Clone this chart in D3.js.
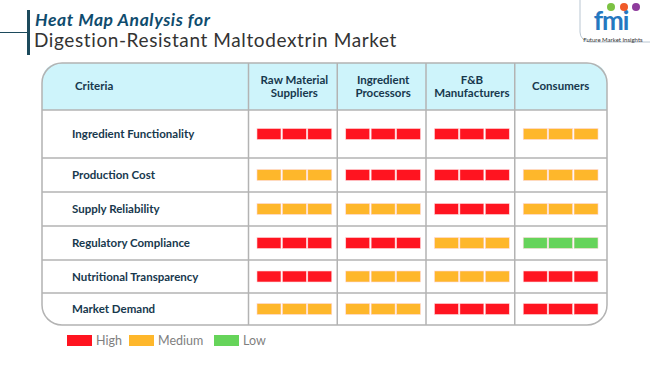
<!DOCTYPE html>
<html lang="en">
<head>
<meta charset="utf-8">
<title>Heat Map Analysis</title>
<script src="https://cdnjs.cloudflare.com/ajax/libs/d3/7.8.5/d3.min.js"></script>
<style>
  body { margin: 0; background: #fff; }
  text { font-family: Lato, "Open Sans", "DejaVu Sans", sans-serif; }
</style>
</head>
<body>
<script>
var criteria = ["Ingredient Functionality", "Production Cost", "Supply Reliability",
    "Regulatory Compliance", "Nutritional Transparency", "Market Demand"];
var stakeholders = [["Raw Material", "Suppliers"], ["Ingredient", "Processors"],
    ["F&B", "Manufacturers"], ["Consumers"]];
var levelNames = ["High", "Medium", "Low"];

// one list per criterion, one entry per stakeholder column
var functionality = ["High", "High", "High", "Medium"];
var cost = ["Medium", "High", "High", "Medium"];
var reliability = ["Medium", "Medium", "High", "Medium"];
var regulatory = ["High", "High", "Medium", "Low"];
var transparency = ["High", "Medium", "Medium", "High"];
var demand = ["Medium", "Medium", "High", "High"];
var levels = [functionality, cost, reliability, regulatory, transparency, demand];

var W = 650, H = 365;
var svg = d3.select("body").append("svg")
    .attr("width", W).attr("height", H);

var color = d3.scaleOrdinal().domain(levelNames)
    .range(["#ff1420", "#feb72b", "#66d45a"]);

// table frame
var tLeft = 42, tRight = 607, tTop = 63, headBottom = 110;
var rowH = [48, 34, 34, 34, 33, 32];
var rowTop = [];
var acc = headBottom;
rowH.forEach(function(h) { rowTop.push(acc); acc += h; });
var tBottom = acc;

var x = d3.scaleBand().domain(d3.range(stakeholders.length)).range([250, 605]);

// header background with rounded top corners
var r = 20;
svg.append("path")
    .attr("d", "M" + tLeft + "," + headBottom + " L" + tLeft + "," + (tTop + r) +
        " Q" + tLeft + "," + tTop + " " + (tLeft + r) + "," + tTop +
        " L" + (tRight - r) + "," + tTop +
        " Q" + tRight + "," + tTop + " " + tRight + "," + (tTop + r) +
        " L" + tRight + "," + headBottom + " Z")
    .attr("fill", "#cef4fb");

var grid = svg.append("g").attr("stroke", "#b3b3b3").attr("stroke-width", 1.5).attr("fill", "none");
grid.append("rect")
    .attr("x", tLeft).attr("y", tTop)
    .attr("width", tRight - tLeft).attr("height", tBottom - tTop)
    .attr("rx", r).attr("ry", r);

// horizontal row lines
grid.selectAll("line.h").data(rowTop).enter().append("line")
    .attr("x1", tLeft).attr("x2", tRight)
    .attr("y1", function(d) { return d; }).attr("y2", function(d) { return d; });

// vertical column lines
grid.selectAll("line.v").data(stakeholders).enter().append("line")
    .attr("x1", function(d, i) { return x(i) - 1.5; })
    .attr("x2", function(d, i) { return x(i) - 1.5; })
    .attr("y1", tTop).attr("y2", tBottom);

var ink = "#17384d";

// header labels
svg.append("text").attr("x", 75).attr("y", 90)
    .attr("font-size", 11.5).attr("font-weight", 700).attr("fill", ink)
    .text("Criteria");

svg.selectAll("text.col").data(stakeholders).enter().append("text")
    .attr("class", "col")
    .attr("x", function(d, i) { return x(i) + x.bandwidth() / 2; })
    .attr("y", function(d) { return d.length > 1 ? 84 : 90; })
    .attr("text-anchor", "middle")
    .attr("font-size", 11.5).attr("font-weight", 700).attr("fill", ink)
    .each(function(d) {
        var t = d3.select(this);
        d.forEach(function(line, k) {
            t.append("tspan")
                .attr("x", t.attr("x"))
                .attr("dy", k === 0 ? 0 : 12.5)
                .text(line);
        });
    });

// row labels
svg.selectAll("text.row").data(criteria).enter().append("text")
    .attr("class", "row")
    .attr("x", 72)
    .attr("y", function(d, i) { return rowTop[i] + rowH[i] / 2 + 4; })
    .attr("font-size", 11.5).attr("font-weight", 700).attr("fill", ink)
    .text(function(d) { return d; });

// heat cells: three segments per cell
var segW = 24, segGap = 1.4, segH = 11;
var rows = svg.selectAll("g.hrow").data(levels).enter().append("g")
    .attr("transform", function(d, i) {
        return "translate(0," + (rowTop[i] + rowH[i] / 2 - segH / 2) + ")";
    });
rows.selectAll("g.cell").data(function(d) { return d; }).enter().append("g")
    .attr("transform", function(d, j) {
        var cx = x(j) + x.bandwidth() / 2;
        return "translate(" + (cx - (3 * segW + 2 * segGap) / 2) + ",0)";
    })
    .selectAll("rect").data(function(d) { return [d, d, d]; }).enter().append("rect")
    .attr("x", function(d, k) { return k * (segW + segGap); })
    .attr("width", segW).attr("height", segH)
    .attr("fill", function(d) { return color(d); })
    .attr("stroke", "#ffd9dc").attr("stroke-width", 0.6);

// legend
var legendX = [67, 129, 214];
var lg = svg.selectAll("g.legend").data(levelNames).enter().append("g")
    .attr("transform", function(d, i) { return "translate(" + legendX[i] + ",335)"; });
lg.append("rect").attr("width", 25).attr("height", 11)
    .attr("fill", function(d) { return color(d); });
lg.append("text").attr("x", 29).attr("y", 10)
    .attr("font-size", 12.5).attr("fill", "#7f7f7f")
    .text(function(d) { return d; });

// title block
svg.append("line").attr("x1", 0).attr("x2", 28).attr("y1", 32.5).attr("y2", 32.5)
    .attr("stroke", "#1c4a5c").attr("stroke-width", 1);
svg.append("rect").attr("x", 27).attr("y", 10).attr("width", 3).attr("height", 45)
    .attr("fill", "#1c4a5c");
svg.append("text").attr("x", 35).attr("y", 26)
    .attr("font-family", "Open Sans, sans-serif")
    .attr("font-size", 17.5).attr("font-weight", 700).attr("font-style", "italic")
    .attr("letter-spacing", 0.6)
    .attr("fill", "#0f4c6e").text("Heat Map Analysis for");
svg.append("text").attr("x", 34).attr("y", 47)
    .attr("font-family", "Open Sans, sans-serif")
    .attr("font-size", 19).attr("fill", "#333").attr("letter-spacing", 0.6)
    .text("Digestion-Resistant Maltodextrin Market");

// logo
var logo = svg.append("g");
logo.append("rect").attr("x", 580).attr("y", -12).attr("width", 90).attr("height", 54)
    .attr("rx", 10).attr("fill", "#fff").attr("stroke", "#b9c6d2").attr("stroke-width", 1);
logo.append("text").attr("x", 611).attr("y", 30).attr("text-anchor", "middle")
    .attr("font-family", "DejaVu Serif, serif").attr("font-weight", 700)
    .attr("font-size", 26).attr("fill", "#2578c0").attr("letter-spacing", -1).text("fmi");
var dots = [[611, 7, "#7cc243"], [624, 7, "#f05a28"], [636, 7, "#8e3b9c"]];
logo.selectAll("circle").data(dots).enter().append("circle")
    .attr("cx", function(d) { return d[0]; }).attr("cy", function(d) { return d[1]; })
    .attr("r", 4).attr("fill", function(d) { return d[2]; });
logo.append("text").attr("x", 613).attr("y", 42).attr("text-anchor", "middle")
    .attr("font-size", 6).attr("fill", "#333").text("Future Market Insights");
</script>
</body>
</html>
